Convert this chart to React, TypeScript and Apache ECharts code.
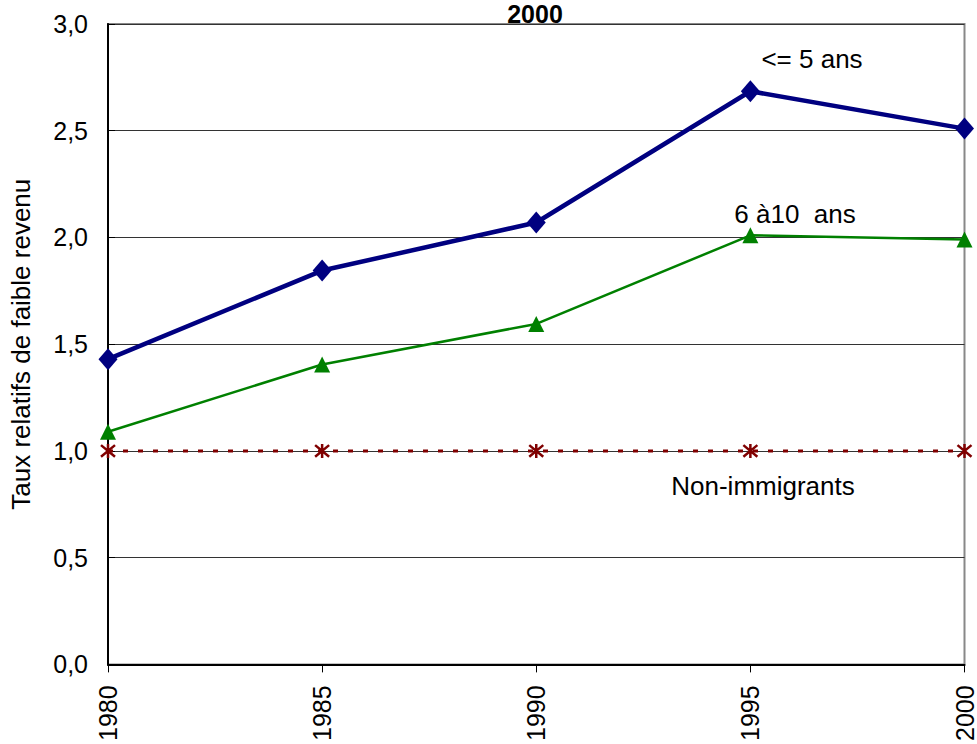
import React, { useEffect, useRef } from "react";
import * as echarts from "echarts";

const years = [1980, 1985, 1990, 1995, 2000];
const recent = [1.43, 1.845, 2.07, 2.685, 2.51];
const mid = [1.09, 1.405, 1.595, 2.01, 1.99];
const nonImm = [1.0, 1.0, 1.0, 1.0, 1.0];
const yTicks = { min: 0, max: 3, interval: 0.5 };
const titleText = "2000";
const yName = "Taux relatifs de faible revenu";
const labels = ["<= 5 ans", "6 à10  ans", "Non-immigrants"];

const FONT = "'Liberation Sans', Arial, sans-serif";
const asterisk = "path://M0,0 L10,10 M10,0 L0,10 M5,-1 L5,11";

export default function App() {
  const ref = useRef<HTMLDivElement>(null);
  useEffect(() => {
    if (!ref.current) return;
    const chart = echarts.init(ref.current, undefined, { renderer: "svg" });
    const pair = (arr: number[]) => years.map((y, i) => [y, arr[i]]);
    const label = (text: string, x: number, y: number) => ({
      type: "text",
      x,
      y,
      style: {
        text,
        font: `26px ${FONT}`,
        fill: "#000",
        textAlign: "center",
        textVerticalAlign: "middle",
      },
    });
    chart.setOption({
      animation: false,
      backgroundColor: "#fff",
      grid: {
        left: 105,
        right: 12,
        top: 24,
        bottom: 77,
        show: true,
        borderColor: "#888",
        borderWidth: 2,
        containLabel: false,
      },
      graphic: [
        {
          type: "text",
          x: 535,
          y: 1,
          style: {
            text: titleText,
            font: `bold 25px ${FONT}`,
            fill: "#000",
            textAlign: "center",
            textVerticalAlign: "top",
          },
        },
        label(labels[0], 812, 59),
        label(labels[1], 795, 214),
        label(labels[2], 763, 486),
      ],
      xAxis: {
        type: "value",
        min: 1980,
        max: 2000,
        interval: 5,
        axisLine: { show: true, lineStyle: { color: "#000", width: 2 } },
        axisTick: { show: true, length: 8, lineStyle: { color: "#000", width: 1 } },
        axisLabel: {
          rotate: 90,
          margin: 21,
          fontSize: 25,
          fontFamily: FONT,
          color: "#000",
          formatter: (v: number) => String(v),
        },
        splitLine: { show: false },
      },
      yAxis: {
        type: "value",
        min: yTicks.min,
        max: yTicks.max,
        interval: yTicks.interval,
        name: yName,
        nameLocation: "middle",
        nameGap: 74,
        nameTextStyle: { fontSize: 26, fontFamily: FONT, color: "#000" },
        axisLine: { show: true, lineStyle: { color: "#000", width: 2 } },
        axisTick: { show: true, inside: true, length: 7, lineStyle: { color: "#000" } },
        axisLabel: {
          margin: 20,
          fontSize: 25,
          fontFamily: FONT,
          color: "#000",
          formatter: (v: number) => v.toFixed(1).replace(".", ","),
        },
        splitLine: { show: true, lineStyle: { color: "#333", width: 1 } },
      },
      series: [
        {
          name: "Non-immigrants",
          type: "line",
          data: pair(nonImm),
          symbol: asterisk,
          symbolSize: 14,
          lineStyle: { color: "#800000", width: 3, type: [5, 10] },
          itemStyle: { color: "transparent", borderColor: "#800000", borderWidth: 2.5 },
          z: 3,
        },
        {
          name: "6 à10 ans",
          type: "line",
          data: pair(mid),
          symbol: "triangle",
          symbolSize: [16, 16],
          lineStyle: { color: "#008000", width: 2.5 },
          itemStyle: { color: "#008000" },
          z: 4,
        },
        {
          name: "<= 5 ans",
          type: "line",
          data: pair(recent),
          symbol: "diamond",
          symbolSize: [19, 22],
          lineStyle: { color: "#000080", width: 4.5 },
          itemStyle: { color: "#000080" },
          z: 5,
        },
      ],
    });
    return () => chart.dispose();
  }, []);
  return (
    <div
      ref={ref}
      style={{ position: "absolute", left: 0, top: 0, width: 977, height: 744 }}
    />
  );
}
